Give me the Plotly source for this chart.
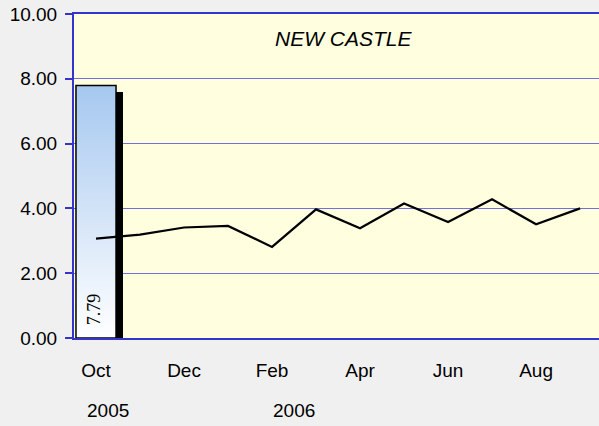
import plotly.graph_objects as go

months = ["Oct", "Nov", "Dec", "Jan", "Feb", "Mar", "Apr", "May", "Jun", "Jul", "Aug", "Sep"]
line_values = [3.07, 3.19, 3.41, 3.46, 2.81, 3.97, 3.39, 4.15, 3.58, 4.28, 3.51, 4.00]
bar_months = ["Oct"]
bar_values = [7.79]
tick_months = ["Oct", "Dec", "Feb", "Apr", "Jun", "Aug"]
years = ["2005", "2006"]
year_pos = [0.27, 4.5]
title_text = "NEW CASTLE"

FONT = "Arial, Liberation Sans, sans-serif"
SERIF = "Liberation Serif"
idx = {m: i for i, m in enumerate(months)}
x_line = list(range(len(months)))

fig = go.Figure()

bw = 0.91
dx = 0.155
dy = 0.19
for m, v in zip(bar_months, bar_values):
    i = idx[m]
    # shadow
    fig.add_trace(go.Bar(x=[i + dx], y=[v - dy], width=[bw], marker=dict(color="black", line=dict(width=0)),
                         hoverinfo="skip", showlegend=False))
    # gradient bar
    fig.add_trace(go.Scatter(
        x=[i - bw / 2, i + bw / 2, i + bw / 2, i - bw / 2, i - bw / 2],
        y=[0, 0, v, v, 0], mode="lines", fill="toself",
        line=dict(color="black", width=1.5),
        fillgradient=dict(type="vertical", colorscale=[[0, "#ffffff"], [1, "#a6c8ef"]]),
        hoverinfo="skip", showlegend=False))
    fig.add_annotation(x=i - 0.03, y=0.88, xref="x", yref="y", text=f"{v:.2f}", textangle=-90,
                       showarrow=False, font=dict(family=SERIF, size=18, color="black"))

fig.add_trace(go.Scatter(x=x_line, y=line_values, mode="lines", line=dict(color="black", width=2.2),
                         showlegend=False))

tickvals = [idx[m] for m in tick_months]

fig.update_layout(
    width=599, height=426,
    margin=dict(l=74, r=0, t=14, b=88),
    paper_bgcolor="#f0f0f0", plot_bgcolor="#ffffe0",
    showlegend=False, bargap=0,
    xaxis=dict(range=[-0.5, 11.43], tickvals=tickvals, ticktext=tick_months,
               showgrid=False, zeroline=False, showline=True, linecolor="#3535cc", linewidth=2,
               mirror=True, ticks="outside", ticklen=14, tickcolor="rgba(0,0,0,0)",
               tickfont=dict(family=FONT, size=19, color="black")),
    yaxis=dict(range=[0, 10], tickvals=[0, 2, 4, 6, 8, 10], tickformat=".2f",
               showgrid=True, gridcolor="#7070e0", gridwidth=1, zeroline=False,
               showline=True, linecolor="#3535cc", linewidth=2,
               ticks="outside", ticklen=7, tickcolor="#3535cc", tickwidth=2,
               ticklabelstandoff=4,
               tickfont=dict(family=FONT, size=19, color="black")),
)

for y, p in zip(years, year_pos):
    fig.add_annotation(x=p, y=-0.225, xref="x", yref="paper", text=y, showarrow=False,
                       yanchor="middle", font=dict(family=FONT, size=19, color="black"))

fig.add_annotation(x=0.514, y=0.923, xref="paper", yref="paper", text=f"<i>{title_text}</i>",
                   showarrow=False, yanchor="middle", font=dict(family=FONT, size=21, color="black"))

fig.write_html(
    "out.html",
    config={"displayModeBar": False},
    post_script="document.body.style.margin='0';document.body.style.overflow='hidden';"
                "document.body.style.background='#f0f0f0';",
)
